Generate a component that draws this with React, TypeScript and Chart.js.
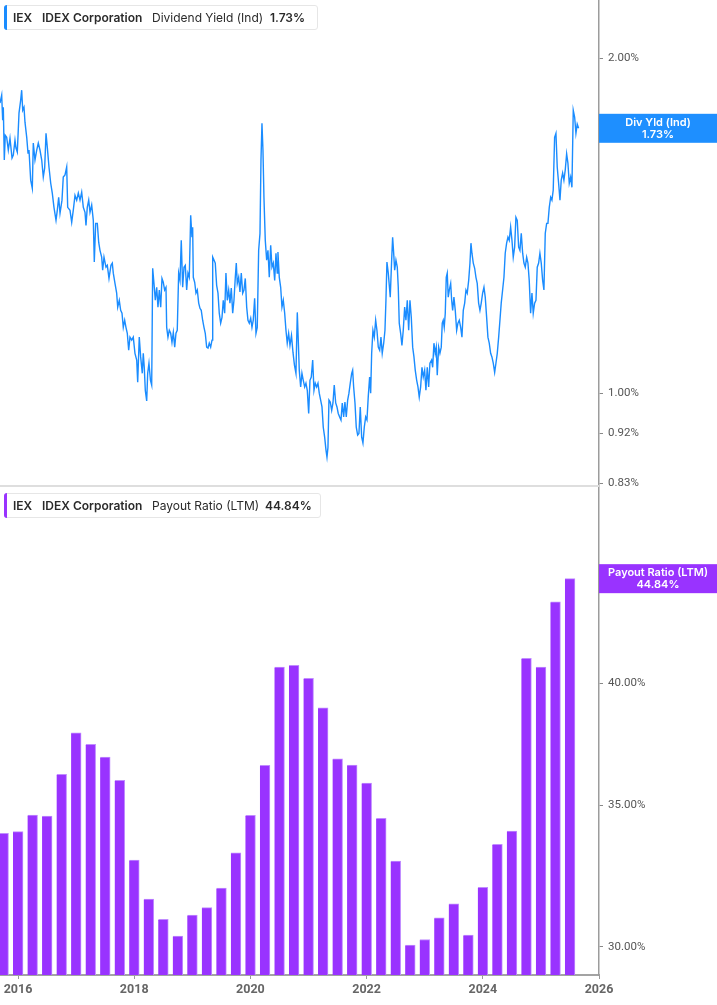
import { useEffect, useRef } from "react";
import { Chart, registerables } from "chart.js";

Chart.register(...registerables);

// dividend yield (Ind), %
const yieldDates = [
  2015.690, 2015.719, 2015.736, 2015.747, 2015.764, 2015.781, 2015.805, 2015.833, 2015.862, 2015.897,
  2015.919, 2015.948, 2015.965, 2015.988, 2016.017, 2016.046, 2016.063, 2016.081, 2016.103, 2016.120,
  2016.150, 2016.172, 2016.189, 2016.218, 2016.246, 2016.263, 2016.292, 2016.322, 2016.349, 2016.378,
  2016.408, 2016.435, 2016.459, 2016.482, 2016.504, 2016.533, 2016.563, 2016.590, 2016.619, 2016.654,
  2016.676, 2016.700, 2016.723, 2016.757, 2016.779, 2016.809, 2016.838, 2016.855, 2016.895, 2016.924,
  2016.951, 2016.981, 2017.010, 2017.038, 2017.067, 2017.096, 2017.124, 2017.153, 2017.170, 2017.192,
  2017.217, 2017.239, 2017.268, 2017.296, 2017.313, 2017.337, 2017.365, 2017.389, 2017.411, 2017.440,
  2017.457, 2017.480, 2017.514, 2017.537, 2017.566, 2017.600, 2017.623, 2017.640, 2017.669, 2017.698,
  2017.716, 2017.743, 2017.767, 2017.790, 2017.812, 2017.836, 2017.858, 2017.881, 2017.905, 2017.927,
  2017.957, 2017.984, 2018.013, 2018.043, 2018.060, 2018.087, 2018.111, 2018.139, 2018.156, 2018.173,
  2018.191, 2018.215, 2018.232, 2018.254, 2018.280, 2018.301, 2018.318, 2018.340, 2018.363, 2018.387,
  2018.409, 2018.432, 2018.456, 2018.478, 2018.500, 2018.524, 2018.547, 2018.559, 2018.581, 2018.604,
  2018.628, 2018.650, 2018.673, 2018.697, 2018.719, 2018.741, 2018.765, 2018.788, 2018.810, 2018.834,
  2018.857, 2018.879, 2018.903, 2018.925, 2018.948, 2018.972, 2018.994, 2019.006, 2019.017, 2019.041,
  2019.063, 2019.086, 2019.110, 2019.132, 2019.154, 2019.178, 2019.201, 2019.223, 2019.247, 2019.270,
  2019.292, 2019.316, 2019.339, 2019.351, 2019.373, 2019.395, 2019.419, 2019.442, 2019.464, 2019.488,
  2019.511, 2019.533, 2019.557, 2019.579, 2019.602, 2019.626, 2019.648, 2019.671, 2019.695, 2019.717,
  2019.740, 2019.757, 2019.774, 2019.798, 2019.820, 2019.843, 2019.867, 2019.889, 2019.912, 2019.936,
  2019.958, 2019.981, 2020.005, 2020.027, 2020.049, 2020.073, 2020.096, 2020.118, 2020.142, 2020.165,
  2020.182, 2020.199, 2020.216, 2020.233, 2020.256, 2020.280, 2020.302, 2020.325, 2020.349, 2020.371,
  2020.394, 2020.418, 2020.440, 2020.462, 2020.474, 2020.497, 2020.521, 2020.543, 2020.566, 2020.590,
  2020.612, 2020.634, 2020.658, 2020.681, 2020.707, 2020.733, 2020.758, 2020.784, 2020.807, 2020.824,
  2020.841, 2020.865,
  2020.887, 2020.910, 2020.934, 2020.956, 2020.979, 2021.003, 2021.025, 2021.048, 2021.072, 2021.094,
  2021.116, 2021.140, 2021.163, 2021.185, 2021.209, 2021.232, 2021.254, 2021.278, 2021.301, 2021.318,
  2021.335, 2021.352, 2021.374, 2021.399, 2021.421, 2021.443, 2021.468, 2021.490, 2021.512, 2021.536,
  2021.559, 2021.581, 2021.605, 2021.627, 2021.650, 2021.674, 2021.696, 2021.719, 2021.743, 2021.760,
  2021.777, 2021.800, 2021.822, 2021.846, 2021.868, 2021.891, 2021.915, 2021.937, 2021.960, 2021.984,
  2022.006, 2022.028, 2022.052, 2022.070, 2022.087, 2022.109, 2022.132, 2022.156, 2022.178, 2022.201,
  2022.225, 2022.247, 2022.269, 2022.294, 2022.316, 2022.333, 2022.350, 2022.373, 2022.397, 2022.407,
  2022.431, 2022.448, 2022.466, 2022.483, 2022.505, 2022.528, 2022.545, 2022.562, 2022.586, 2022.608,
  2022.631, 2022.655, 2022.677, 2022.700, 2022.724, 2022.746, 2022.769, 2022.793, 2022.815, 2022.837,
  2022.862, 2022.884, 2022.906, 2022.930, 2022.953, 2022.975, 2022.999, 2023.021, 2023.044, 2023.068,
  2023.090, 2023.119, 2023.137, 2023.159, 2023.181, 2023.199, 2023.216, 2023.240, 2023.262, 2023.285,
  2023.302, 2023.319, 2023.336, 2023.354, 2023.371, 2023.388, 2023.405, 2023.423, 2023.447, 2023.464,
  2023.481, 2023.503, 2023.526, 2023.550, 2023.572, 2023.595, 2023.619, 2023.641, 2023.664, 2023.688,
  2023.710, 2023.732, 2023.757, 2023.779, 2023.796, 2023.813, 2023.836, 2023.860, 2023.882, 2023.904,
  2023.928, 2023.951, 2023.973, 2023.997, 2024.020, 2024.042, 2024.066, 2024.088, 2024.111, 2024.135,
  2024.157, 2024.180, 2024.204, 2024.226, 2024.249, 2024.273, 2024.295, 2024.317, 2024.341, 2024.364,
  2024.386, 2024.410, 2024.433, 2024.455, 2024.479, 2024.502, 2024.524, 2024.548, 2024.570, 2024.593,
  2024.617, 2024.639, 2024.662, 2024.686, 2024.708, 2024.731, 2024.755, 2024.777, 2024.799, 2024.823,
  2024.846, 2024.868, 2024.892, 2024.915, 2024.937, 2024.961, 2024.983, 2025.006, 2025.030, 2025.052,
  2025.075, 2025.099, 2025.121, 2025.144, 2025.168, 2025.190, 2025.212, 2025.236, 2025.259, 2025.281,
  2025.305, 2025.328, 2025.350, 2025.374, 2025.396, 2025.419, 2025.443, 2025.465, 2025.488, 2025.512,
  2025.534, 2025.557, 2025.581, 2025.603, 2025.625, 2025.649,
];

const yieldValues = [
  1.823, 1.853, 1.759, 1.807, 1.620, 1.705, 1.698, 1.654, 1.695, 1.627,
  1.637, 1.688, 1.661, 1.647, 1.785, 1.834, 1.872, 1.796, 1.807, 1.752,
  1.698, 1.644, 1.654, 1.554, 1.528, 1.678, 1.620, 1.654, 1.678, 1.654,
  1.620, 1.564, 1.594, 1.712, 1.664, 1.597, 1.544, 1.513, 1.469, 1.430,
  1.460, 1.500, 1.451, 1.491, 1.564, 1.571, 1.597, 1.469, 1.460, 1.424,
  1.460, 1.506, 1.491, 1.513, 1.491, 1.516, 1.469, 1.454, 1.415, 1.469,
  1.491, 1.454, 1.476, 1.430, 1.312, 1.421, 1.421, 1.366, 1.344, 1.325,
  1.290, 1.325, 1.298, 1.303, 1.268, 1.303, 1.309, 1.282, 1.255, 1.230,
  1.195, 1.212, 1.187, 1.180, 1.146, 1.163, 1.146, 1.132, 1.093, 1.123,
  1.116, 1.123, 1.086, 1.071, 1.023, 1.123, 1.078, 1.042, 1.086, 1.055,
  1.006, 0.984, 1.042, 1.064, 1.027, 1.017, 1.295, 1.255, 1.212, 1.245,
  1.195, 1.238, 1.195, 1.268, 1.258, 1.238, 1.245, 1.146, 1.123, 1.139,
  1.132, 1.111, 1.134, 1.100, 1.132, 1.139, 1.282, 1.263, 1.372, 1.245,
  1.298, 1.303, 1.238, 1.282, 1.271, 1.445, 1.381, 1.410, 1.271, 1.258,
  1.230, 1.238, 1.205, 1.192, 1.187, 1.163, 1.146, 1.132, 1.100, 1.098,
  1.109, 1.100, 1.116, 1.325, 1.317, 1.309, 1.250, 1.230, 1.180, 1.156,
  1.170, 1.212, 1.180, 1.282, 1.212, 1.238, 1.205, 1.243, 1.180, 1.212,
  1.271, 1.309, 1.255, 1.271, 1.233, 1.282, 1.230, 1.238, 1.268, 1.195,
  1.163, 1.156, 1.168, 1.146, 1.163, 1.217, 1.132, 1.146, 1.344, 1.392,
  1.620, 1.748, 1.654, 1.500, 1.372, 1.317, 1.344, 1.271, 1.358, 1.298,
  1.309, 1.263, 1.336, 1.282, 1.339, 1.271, 1.245, 1.195, 1.212, 1.180,
  1.139, 1.109, 1.132, 1.104, 1.127, 1.088, 1.060, 1.042, 1.182, 1.116,
  1.049, 1.013,
  1.042, 1.027, 1.013, 1.021, 1.006, 0.959, 1.027, 1.034, 1.071, 1.006,
  1.021, 1.013, 1.021, 1.000, 0.986, 0.972, 0.932, 0.913, 0.889, 0.876,
  0.894, 0.986, 0.982, 0.965, 0.980, 1.017, 0.980, 0.972, 0.959, 0.952,
  0.946, 0.980, 0.952, 0.982, 0.952, 0.986, 1.000, 1.021, 1.042, 1.049,
  1.013, 0.980, 0.932, 0.917, 0.920, 0.972, 0.913, 0.902, 0.932, 0.952,
  0.946, 0.992, 1.034, 1.000, 1.086, 1.139, 1.123, 1.163, 1.139, 1.100,
  1.093, 1.123, 1.086, 1.109, 1.139, 1.212, 1.312, 1.282, 1.238, 1.220,
  1.317, 1.381, 1.336, 1.290, 1.317, 1.298, 1.245, 1.156, 1.132, 1.104,
  1.139, 1.195, 1.163, 1.212, 1.139, 1.212, 1.170, 1.100, 1.078, 1.049,
  1.027, 1.013, 0.992, 1.013, 1.055, 1.034, 1.049, 1.006, 1.055, 1.013,
  1.064, 1.071, 1.055, 1.109, 1.086, 1.100, 1.038, 1.100, 1.086, 1.100,
  1.156, 1.163, 1.146, 1.180, 1.271, 1.282, 1.220, 1.238, 1.255, 1.212,
  1.187, 1.220, 1.187, 1.139, 1.156, 1.163, 1.146, 1.123, 1.187, 1.205,
  1.238, 1.230, 1.263, 1.309, 1.364, 1.336, 1.309, 1.295, 1.271, 1.255,
  1.205, 1.187, 1.205, 1.230, 1.245, 1.220, 1.170, 1.123, 1.109, 1.086,
  1.078, 1.064, 1.044, 1.064, 1.086, 1.123, 1.163, 1.205, 1.238, 1.271,
  1.336, 1.364, 1.381, 1.372, 1.410, 1.372, 1.325, 1.353, 1.439, 1.430,
  1.353, 1.344, 1.392, 1.336, 1.309, 1.298, 1.325, 1.309, 1.263, 1.180,
  1.230, 1.180, 1.205, 1.212, 1.298, 1.309, 1.336, 1.309, 1.263, 1.238,
  1.392, 1.421, 1.421, 1.469, 1.500, 1.491, 1.522, 1.698, 1.712, 1.597,
  1.544, 1.491, 1.554, 1.577, 1.554, 1.587, 1.641, 1.610, 1.544, 1.564,
  1.531, 1.796, 1.770, 1.712, 1.745, 1.730,
];

const yieldTicks = [0.83, 0.92, 1.0, 2.0];

// payout ratio (LTM), %, one bar per quarter end
const payoutQuarters = [
  2015.75, 2016.0, 2016.25, 2016.5, 2016.75, 2017.0, 2017.25, 2017.5, 2017.75, 2018.0,
  2018.25, 2018.5, 2018.75, 2019.0, 2019.25, 2019.5, 2019.75, 2020.0, 2020.25, 2020.5,
  2020.75, 2021.0, 2021.25, 2021.5, 2021.75, 2022.0, 2022.25, 2022.5, 2022.75, 2023.0,
  2023.25, 2023.5, 2023.75, 2024.0, 2024.25, 2024.5, 2024.75, 2025.0, 2025.25, 2025.5,
];

const payoutValues = [
  33.96, 34.02, 34.64, 34.6, 36.22, 37.89, 37.42, 36.9, 35.98, 32.98,
  31.6, 30.91, 30.35, 31.06, 31.31, 31.99, 33.24, 34.63, 36.57, 40.71,
  40.79, 40.22, 38.94, 36.83, 36.58, 35.87, 34.52, 32.94, 30.06, 30.24,
  30.96, 31.44, 30.39, 32.01, 33.55, 34.04, 41.11, 40.71, 43.72, 44.84,
];

const payoutTicks = [30, 35, 40];
const yearTicks = [2016, 2018, 2020, 2022, 2024, 2026];

const X_MIN = 2015.69;
const X_MAX = 2026;
const AXIS_W = 118;
const TOP_H = 487;
const BOTTOM_H = 518;
const BLUE = "#1a8cff";
const PURPLE = "#9933ff";

const pct = (v: number | string) => Number(v).toFixed(2) + "%";

// coloured tag on the right axis at the last value
const valueTag = {
  id: "valueTag",
  afterDraw(chart: any, _args: any, opts: any) {
    const { ctx, chartArea, scales } = chart;
    const data = chart.data.datasets[0].data;
    const last = data[data.length - 1].y;
    const y = scales.y.getPixelForValue(last);
    ctx.save();
    ctx.fillStyle = opts.color;
    ctx.fillRect(chartArea.right, y - 14.5, AXIS_W, 29);
    ctx.fillStyle = "#fff";
    ctx.font = "600 11px Inter, sans-serif";
    ctx.textAlign = "center";
    ctx.textBaseline = "middle";
    const cx = chartArea.right + AXIS_W / 2;
    ctx.fillText(opts.title, cx, y - 6);
    ctx.fillText(pct(last), cx, y + 6);
    ctx.restore();
  },
};

const separator = {
  id: "separator",
  afterDraw(chart: any) {
    const { ctx, chartArea } = chart;
    ctx.save();
    ctx.strokeStyle = "#dedede";
    ctx.lineWidth = 2;
    ctx.beginPath();
    ctx.moveTo(0, chartArea.bottom - 1);
    ctx.lineTo(chartArea.right, chartArea.bottom - 1);
    ctx.stroke();
    ctx.restore();
  },
};

const rightAxis = (min: number, max: number, ticks: number[]) => ({
  type: "logarithmic" as const,
  position: "right" as const,
  min,
  max,
  afterBuildTicks: (s: any) => {
    s.ticks = ticks.map((value) => ({ value }));
  },
  afterFit: (s: any) => {
    s.width = AXIS_W;
    s.paddingTop = 0;
    s.paddingBottom = 0;
  },
  ticks: {
    autoSkip: false,
    padding: 5,
    color: "#555",
    font: { family: "Roboto, sans-serif", size: 11.5 },
    callback: (v: any) => pct(v),
  },
  grid: { drawOnChartArea: false, drawTicks: true, tickLength: 4, color: "#888" },
  border: { display: true, color: "#9c9c9c", width: 1.5 },
});

function YieldChart() {
  const chartRef = useRef<HTMLCanvasElement>(null);

  useEffect(() => {
    if (!chartRef.current) return;
    const chart = new Chart(chartRef.current, {
      type: "line",
      data: {
        datasets: [
          {
            data: yieldDates.map((x, i) => ({ x, y: yieldValues[i] })),
            borderColor: BLUE,
            borderWidth: 1.4,
            pointRadius: 0,
            tension: 0,
          },
        ],
      },
      options: {
        animation: false,
        responsive: false,
        layout: { padding: 0 },
        plugins: {
          legend: { display: false },
          tooltip: { enabled: false },
          valueTag: { color: "#1e8fff", title: "Div Yld (Ind)" },
        } as any,
        scales: {
          x: { type: "linear", min: X_MIN, max: X_MAX, display: false },
          y: rightAxis(0.8236, 2.256, yieldTicks),
        },
      },
      plugins: [separator, valueTag],
    });
    return () => chart.destroy();
  }, []);

  return <canvas ref={chartRef} width={717} height={TOP_H} style={{ display: "block" }} />;
}

function PayoutChart() {
  const chartRef = useRef<HTMLCanvasElement>(null);

  useEffect(() => {
    if (!chartRef.current) return;
    const chart = new Chart(chartRef.current, {
      type: "bar",
      data: {
        datasets: [
          {
            data: payoutQuarters.map((x, i) => ({ x, y: payoutValues[i] })),
            backgroundColor: PURPLE,
            borderColor: "#c08cff",
            borderWidth: { top: 1, right: 1, left: 0, bottom: 0 },
            borderSkipped: false,
            barThickness: 10,
          },
        ],
      },
      options: {
        animation: false,
        responsive: false,
        layout: { padding: 0 },
        plugins: {
          legend: { display: false },
          tooltip: { enabled: false },
          valueTag: { color: PURPLE, title: "Payout Ratio (LTM)" },
        } as any,
        scales: {
          x: {
            type: "linear",
            min: X_MIN,
            max: X_MAX,
            offset: false,
            afterBuildTicks: (s: any) => {
              s.ticks = yearTicks.map((value) => ({ value }));
            },
            afterFit: (s: any) => {
              s.height = 30;
              s.paddingLeft = 0;
              s.paddingRight = 0;
            },
            ticks: {
              autoSkip: false,
              maxRotation: 0,
              padding: 3,
              color: "#666",
              font: { family: "Roboto, sans-serif", size: 12.5, weight: "bold" },
              callback: (v: any) => String(v),
            },
            grid: { offset: false, drawOnChartArea: false, drawTicks: true, tickLength: 4, color: "#999" },
            border: { display: true, color: "#a3a3a3", width: 2 },
          },
          y: rightAxis(29.09, 49.56, payoutTicks),
        },
      },
      plugins: [valueTag],
    });
    return () => chart.destroy();
  }, []);

  return <canvas ref={chartRef} width={717} height={BOTTOM_H} style={{ display: "block" }} />;
}

function Legend({ top, width, color, metric, value, valueLeft }: any) {
  const text = { position: "absolute" as const, top: 0, lineHeight: "24px", whiteSpace: "nowrap" as const };
  return (
    <div
      style={{
        position: "absolute",
        left: 4,
        top,
        width,
        height: 25,
        boxSizing: "border-box",
        border: "1px solid #e6e6e6",
        borderRadius: 3,
        background: "#fff",
        fontFamily: "Inter, sans-serif",
        fontSize: 12,
        color: "#2a2a2a",
      }}
    >
      <div
        style={{
          position: "absolute",
          left: -1,
          top: -1,
          bottom: -1,
          width: 3,
          background: color,
          borderRadius: "3px 0 0 3px",
        }}
      />
      <span style={{ ...text, left: 8, fontWeight: 600 }}>IEX</span>
      <span style={{ ...text, left: 37, fontWeight: 600 }}>IDEX Corporation</span>
      <span style={{ ...text, left: 147 }}>{metric}</span>
      <span style={{ ...text, left: valueLeft, fontWeight: 600 }}>{value}</span>
    </div>
  );
}

export default function App() {
  return (
    <div style={{ position: "absolute", left: 0, top: 0, width: 717, height: 1005, background: "#fff", overflow: "hidden" }}>
      <div style={{ position: "absolute", left: 0, top: 0 }}>
        <YieldChart />
      </div>
      <div style={{ position: "absolute", left: 0, top: TOP_H }}>
        <PayoutChart />
      </div>
      <Legend top={5} width={314} color={BLUE} metric="Dividend Yield (Ind)" value="1.73%" valueLeft={265} />
      <Legend top={493} width={317} color={PURPLE} metric="Payout Ratio (LTM)" value="44.84%" valueLeft={260} />
    </div>
  );
}
